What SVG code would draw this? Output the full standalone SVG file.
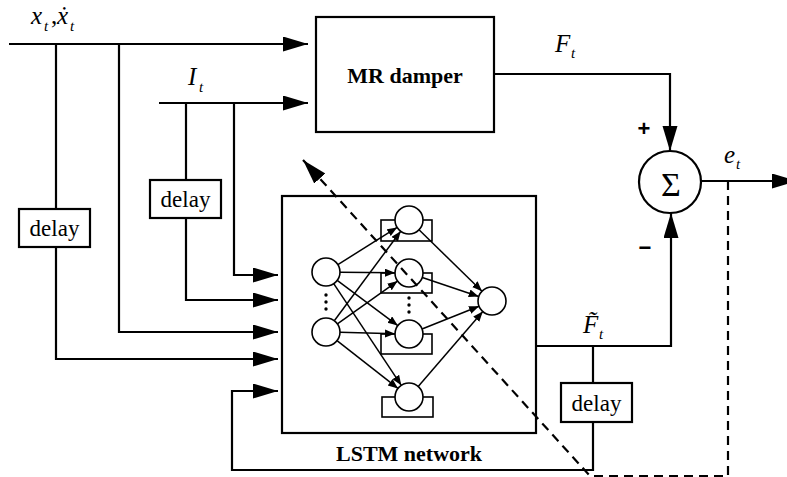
<svg xmlns="http://www.w3.org/2000/svg" width="787" height="477" viewBox="0 0 787 477">
<defs>
<style>
.ln{fill:none;stroke:#000;stroke-width:2.2}
.ds{fill:none;stroke:#000;stroke-width:2.2;stroke-dasharray:9 6}
.box{fill:#fff;stroke:#000;stroke-width:2.2}
.nn{fill:none;stroke:#000;stroke-width:1.5}
.nc{fill:#fff;stroke:#000;stroke-width:1.6}
.nr{fill:#fff;stroke:#000;stroke-width:1.6}
.lbl{font-family:"Liberation Serif","Times New Roman",serif;fill:#000}
.b{font-weight:bold;font-size:22px;text-anchor:middle}
.dl{font-size:23px;text-anchor:middle}
.m{font-style:italic;font-size:25px}
.s{font-style:italic;font-size:15px}
.sg{font-family:"Liberation Sans",Arial,sans-serif;font-weight:bold;font-size:22px;text-anchor:middle}
</style>
<marker id="ah" markerUnits="userSpaceOnUse" markerWidth="26" markerHeight="16" refX="25" refY="7.5" orient="auto">
<path d="M0,0 L25,7.5 L0,15 z" fill="#000"/>
</marker>
<marker id="sa" markerUnits="userSpaceOnUse" markerWidth="11" markerHeight="9" refX="10" refY="4" orient="auto">
<path d="M0,0 L10,4 L0,8 z" fill="#000"/>
</marker>
</defs>
<rect width="787" height="477" fill="#fff"/>

<g id="connectors">
<path class="ln" d="M9,44 H308" marker-end="url(#ah)"/>
<path class="ln" d="M56,44 V209"/>
<path class="ln" d="M56,247 V359 H278" marker-end="url(#ah)"/>
<path class="ln" d="M119,44 V332 H278" marker-end="url(#ah)"/>
<path class="ln" d="M159,103 H308" marker-end="url(#ah)"/>
<path class="ln" d="M186,103 V180"/>
<path class="ln" d="M186,218 V300 H278" marker-end="url(#ah)"/>
<path class="ln" d="M234,103 V275 H278" marker-end="url(#ah)"/>
<path class="ln" d="M593,346 V383"/>
<path class="ln" d="M593,422 V470 H232 V391 H278" marker-end="url(#ah)"/>
<path class="ln" d="M494,74 H670 V151" marker-end="url(#ah)"/>
<path class="ln" d="M536,346 H671 V213" marker-end="url(#ah)"/>
<path class="ln" d="M701,181 H797" marker-end="url(#ah)"/>
</g>

<g id="mr-damper">
<rect class="box" x="316" y="17" width="178" height="115"/>
<text class="lbl b" x="405" y="83">MR damper</text>
</g>

<g id="delay-x">
<rect class="box" x="19" y="209" width="71" height="38"/>
<text class="lbl dl" x="54.5" y="236">delay</text>
</g>
<g id="delay-i">
<rect class="box" x="150" y="180" width="71" height="38"/>
<text class="lbl dl" x="185.5" y="207">delay</text>
</g>
<g id="delay-f">
<rect class="box" x="561" y="383" width="71" height="39"/>
<text class="lbl dl" x="596.5" y="411">delay</text>
</g>

<g id="sum">
<circle class="box" cx="670" cy="182" r="31"/>
<text class="lbl" x="671" y="196" font-size="34" text-anchor="middle">Σ</text>
<text class="sg" x="644" y="136">+</text>
<text class="sg" x="645" y="255">−</text>
</g>

<g id="lstm-network">
<rect class="box" x="282" y="196" width="254" height="237"/>
<g id="hidden-cells">
<rect class="nr" x="381" y="220" width="51" height="21"/>
<rect class="nr" x="381" y="273" width="51" height="20"/>
<rect class="nr" x="381" y="334" width="51" height="20"/>
<rect class="nr" x="382" y="397" width="51" height="20"/>
</g>
<g id="nn-links">
<path class="nn" d="M337.9,264.6 L397.1,227.4" marker-end="url(#sa)"/>
<path class="nn" d="M340,272.2 L395,272.8" marker-end="url(#sa)"/>
<path class="nn" d="M337.2,280.4 L397.8,325.6" marker-end="url(#sa)"/>
<path class="nn" d="M333.7,283.7 L401.3,385.3" marker-end="url(#sa)"/>
<path class="nn" d="M334.3,320.8 L400.7,231.2" marker-end="url(#sa)"/>
<path class="nn" d="M337.4,323.9 L397.6,281.1" marker-end="url(#sa)"/>
<path class="nn" d="M340,332.3 L395,333.7" marker-end="url(#sa)"/>
<path class="nn" d="M337,340.6 L398,388.4" marker-end="url(#sa)"/>
<path class="nn" d="M419,229.8 L482,291.2" marker-end="url(#sa)"/>
<path class="nn" d="M422.3,277.5 L478.7,296.5" marker-end="url(#sa)"/>
<path class="nn" d="M422,329 L479,306.2" marker-end="url(#sa)"/>
<path class="nn" d="M418.2,386.4 L482.8,311.6" marker-end="url(#sa)"/>
</g>
<g id="neurons">
<circle class="nc" cx="326" cy="272" r="14"/>
<circle class="nc" cx="326" cy="332" r="14"/>
<circle class="nc" cx="409" cy="220" r="14"/>
<circle class="nc" cx="409" cy="273" r="14"/>
<circle class="nc" cx="409" cy="334" r="14"/>
<circle class="nc" cx="409" cy="397" r="14"/>
<circle class="nc" cx="492" cy="301" r="14"/>
<circle cx="326" cy="295" r="1.7"/>
<circle cx="326" cy="302" r="1.7"/>
<circle cx="326" cy="309" r="1.7"/>
<circle cx="409" cy="298" r="1.7"/>
<circle cx="409" cy="305" r="1.7"/>
<circle cx="409" cy="312" r="1.7"/>
</g>
<text class="lbl b" x="409" y="461">LSTM network</text>
</g>

<g id="labels" class="lbl">
<text class="m" x="31" y="24">x</text>
<text class="s" x="44" y="31">t</text>
<text x="51" y="24" font-size="25">,</text>
<text class="m" x="57" y="24">x&#x307;</text>
<text class="s" x="70" y="31">t</text>
<text class="m" x="188" y="85">I</text>
<text class="s" x="199" y="92">t</text>
<text class="m" x="555" y="52">F</text>
<text class="s" x="571" y="58">t</text>
<text class="m" x="583" y="333">F&#x303;</text>
<text class="s" x="599" y="339">t</text>
<text class="m" x="724" y="163">e</text>
<text class="s" x="736" y="169">t</text>
</g>

<g id="feedback-dashed">
<path class="ds" d="M728,181 V476 H590 L303,160" marker-end="url(#ah)"/>
</g>
</svg>
